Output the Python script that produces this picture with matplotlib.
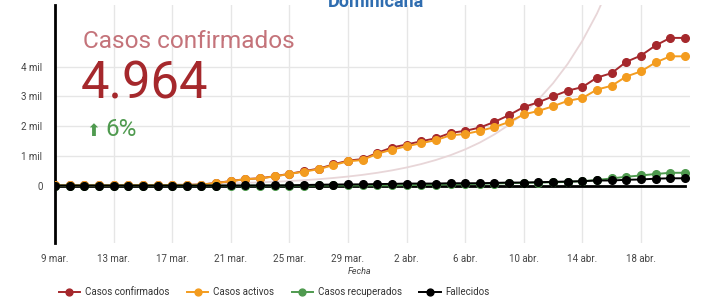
import matplotlib
matplotlib.use("Agg")
import matplotlib.pyplot as plt

plt.rcParams['font.family'] = ['Roboto', 'DejaVu Sans']

# dias desde el 9 de marzo (0) hasta el 21 de abril (43)
dias = list(range(44))

confirmados = [5, 5, 5, 5, 5, 11, 11, 11, 21, 21, 34,
               90, 150, 220, 245, 315, 395, 485, 570, 710, 840, 890,
               1100, 1280, 1380, 1490, 1590, 1770, 1840, 1950, 2140, 2370,
               2640, 2800, 3000, 3190, 3310, 3630, 3780, 4160, 4370, 4710,
               4964, 4964]
activos = [5, 5, 5, 5, 5, 11, 11, 11, 20, 19, 31,
           85, 148, 215, 240, 310, 390, 470, 550, 690, 814, 860,
           1069, 1207, 1321, 1424, 1528, 1690, 1734, 1838, 1966, 2138,
           2390, 2510, 2666, 2848, 2941, 3228, 3355, 3666, 3838, 4138,
           4345, 4345]
recuperados = [0, 0, 0, 0, 0, 0, 0, 0, 0, 0, 0,
               0, 0, 0, 0, 1, 1, 2, 3, 3, 4, 4,
               5, 5, 15, 20, 30, 40, 50, 60, 70, 80,
               95, 100, 110, 125, 145, 190, 240, 297, 340, 390,
               430, 430]
fallecidos = [0, 0, 0, 0, 0, 0, 0, 0, 1, 2, 2,
              2, 3, 3, 6, 6, 10, 20, 28, 36, 39, 42,
              51, 57, 68, 68, 68, 79, 79, 79, 91, 102,
              102, 114, 125, 137, 148, 171, 171, 195, 205, 232,
              245, 245]

# curva de referencia (gris claro)
ref_dias = list(range(8, 39))
ref_vals = [38, 45, 54, 64, 76, 90, 108, 128, 152, 181, 215, 256, 304, 361,
            430, 511, 608, 723, 860, 1022, 1216, 1446, 1720, 2045, 2432,
            2892, 3439, 4090, 4864, 5784, 6878]

tick_dias = [0, 4, 8, 12, 16, 20, 24, 28, 32, 36, 40]
tick_labels = ['9 mar.', '13 mar.', '17 mar.', '21 mar.', '25 mar.', '29 mar.',
               '2 abr.', '6 abr.', '10 abr.', '14 abr.', '18 abr.']
y_ticks = [0, 1000, 2000, 3000, 4000]
y_labels = ['0', '1 mil', '2 mil', '3 mil', '4 mil']

series = [
    ('Casos confirmados', confirmados, '#a5282c'),
    ('Casos activos', activos, '#f39c1f'),
    ('Casos recuperados', recuperados, '#4f9a4f'),
    ('Fallecidos', fallecidos, '#000000'),
]

fig = plt.figure(figsize=(7.19, 2.97), dpi=100)
ax = fig.add_axes([55 / 719, 54 / 297, 635 / 719, 238 / 297])

ax.plot(ref_dias, ref_vals, color='#e8d6d8', lw=1.3, zorder=1)

for nombre, vals, col in series:
    ax.plot(dias, vals, color=col, lw=1.4, marker='o', ms=5.5,
            label=nombre, zorder=3)

ax.plot([dias[0], dias[-1]], [0, 0], color='black', lw=2, zorder=2)

ax.set_xlim(0, 43.35)
ax.set_ylim(-1930, 6070)
ax.set_xticks(tick_dias)
ax.set_xticklabels(tick_labels, fontsize=7, color='#444444')
ax.set_yticks(y_ticks)
ax.set_yticklabels(y_labels, fontsize=7, color='#444444')
ax.tick_params(length=0)
ax.tick_params(axis='x', pad=8)
ax.tick_params(axis='y', pad=9)

ax.grid(axis='x', color='#e6e6e6', lw=1)
for y in y_ticks[1:]:
    ax.axhline(y, color='#e6e6e6', lw=1, zorder=0)
ax.set_axisbelow(True)

for s in ['top', 'right', 'bottom']:
    ax.spines[s].set_visible(False)
ax.spines['left'].set_linewidth(2)
ax.spines['left'].set_color('black')

fig.text(360 / 719, 1 - 271 / 297, 'Fecha', fontsize=6.5, style='italic',
         color='#444444', ha='center', va='center')

fig.text(376 / 719, 1 - 7 / 297, 'Dominicana', fontsize=13, weight='bold',
         color='#2f6db0', ha='center', va='baseline')

fig.text(83 / 719, 1 - 42 / 297, 'Casos confirmados', fontsize=17.6,
         color='#c4737a', ha='left', va='center')
fig.text(81 / 719, 1 - 85 / 297, '4.964', fontsize=36.5,
         color='#a5282c', ha='left', va='center')
fig.text(86 / 719, 1 - 131 / 297, '\u2b06', fontsize=12,
         color='#4f9a4f', ha='left', va='center', family=['DejaVu Sans'])
fig.text(105 / 719, 1 - 130 / 297, '6%', fontsize=17.5,
         color='#4f9a4f', ha='left', va='center')

leg = fig.legend(loc='lower left', bbox_to_anchor=(50 / 719, -0.03), ncol=4,
                 fontsize=7, frameon=False, handlelength=2.2,
                 handletextpad=0.5, columnspacing=1.8, markerscale=0.9)
for t in leg.get_texts():
    t.set_color('#333333')

fig.savefig('out.png', dpi=100)
